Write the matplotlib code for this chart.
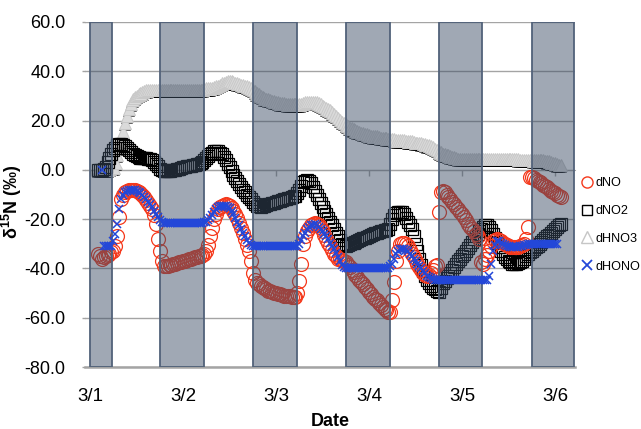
import numpy as np
import matplotlib
matplotlib.use('Agg')
import matplotlib.pyplot as plt
import matplotlib.patheffects as pe
from matplotlib.lines import Line2D
from matplotlib.colors import to_rgba

plt.rcParams['font.family'] = ['Liberation Sans', 'DejaVu Sans']
plt.rcParams['mathtext.fontset'] = 'custom'
plt.rcParams['mathtext.rm'] = 'Liberation Sans'
plt.rcParams['mathtext.bf'] = 'Liberation Sans:bold'
plt.rcParams['mathtext.default'] = 'bf'

nan = float('nan')

# sampling time: every 30 min, hours after 3/1 00:00 (2.0 ... 121.5)
hours = [2 + 0.5 * i for i in range(240)]

dHNO3 = [0, 0, 0, 0, 0, 0.2, 0.5, 0.7, 1, 3, 6, 9,
         12, 15.5, 19, 22, 25, 27, 28.5, 29.3, 30, 30.5, 31, 31.5,
         32, 32.3, 32.5, 32.5, 32.5, 32.5, 32.5, 32.5, 32.5, 32.5, 32.5, 32.5,
         32.5, 32.5, 32.5, 32.5, 32.5, 32.5, 32.5, 32.5, 32.5, 32.5, 32.5, 32.5,
         32.5, 32.5, 32.5, 32.5, 32.5, 32.5, 32.5, 32.8, 33, 33, 33, 33.2,
         33.5, 33.8, 34, 34.5, 35, 35.3, 35.5, 35.8, 36, 35.8, 35.5, 35.3,
         35, 34.8, 34.5, 34.3, 34, 33.8, 33.5, 33, 32.5, 31.8, 31, 30.5,
         30, 29.5, 29, 28.8, 28.5, 28.3, 28, 27.8, 27.5, 27.3, 27, 27,
         27, 26.8, 26.5, 26.5, 26.5, 26.5, 26.5, 26.5, 26.5, 26.7, 27, 27.3,
         27.5, 27.5, 27.5, 27.5, 27.5, 27.3, 27, 26.5, 26, 25.5, 25, 24.5,
         24, 23.3, 22.5, 21.8, 21, 20.3, 19.5, 19, 18.5, 17.8, 17, 16.8,
         16.5, 16, 15.5, 15.3, 15, 14.8, 14.5, 14.3, 14, 13.8, 13.5, 13.5,
         13.5, 13.3, 13, 13, 13, 12.8, 12.5, 12.5, 12.5, 12.3, 12, 12,
         12, 12, 12, 11.8, 11.5, 11.5, 11.5, 11.3, 11, 11, 11, 10.8,
         10.5, 10.3, 10, 9.8, 9.5, 9, 8.5, 8, 7.5, 7, 6.5, 6.3,
         6, 5.8, 5.5, 5.3, 5, 4.8, 4.5, 4.5, 4.5, 4.5, 4.5, 4.5,
         4.5, 4.5, 4.5, 4.5, 4.5, 4.5, 4.5, 4.5, 4.5, 4.5, 4.5, 4.5,
         4.5, 4.5, 4.5, 4.5, 4.5, 4.5, 4.5, 4.5, 4.5, 4.5, 4.5, 4.5,
         4.5, 4.3, 4, 4, 4, 4, 4, 4, 4, 3.8, 3.7, 3.7,
         3.7, 3.7, 3.7, 3.6, 3.5, 3.3, 3, 2.8, 2.5, 2.3, 2, 2]

dNO2 = [0, 0, 0, 0.3, 1, 3, 5, 6.5, 8, 9, 10, 10.3,
        10.5, 10, 9.5, 8.8, 8, 7.3, 6.5, 6, 5.5, 5.2, 5, 5,
        5, 4.8, 4.5, 4.3, 4, 3.3, 2.5, 1.5, 0.5, 0, -0.5, -0.5,
        -0.5, -0.3, 0, 0, 0, 0.3, 0.5, 0.8, 1, 1.3, 1.5, 1.5,
        1.5, 1.8, 2, 2.3, 2.5, 2.8, 3, 4, 5, 5.8, 6.5, 7,
        7.5, 7.5, 7.5, 7, 6.5, 5.3, 4, 2.5, 1, -0.5, -2, -3.3,
        -4.5, -5.8, -7, -8, -9, -10, -11, -12, -13, -13.8, -14.5, -14.8,
        -15, -14.8, -14.5, -14.3, -14, -13.8, -13.5, -13.3, -13, -12.8, -12.5, -12.3,
        -12, -11.8, -11.5, -11.3, -11, -10.8, -10.5, -9.3, -8, -6.5, -5, -4.5,
        -4, -4.5, -5.5, -7, -8.5, -10.3, -12, -13.5, -15, -16.5, -18, -19.5,
        -21, -22.5, -24, -25.5, -27, -28.5, -30, -30.5, -31, -30.5, -30, -29.8,
        -29.5, -29.3, -29, -28.5, -28, -27.8, -27.5, -27.3, -27, -26.5, -26, -25.8,
        -25.5, -25.3, -25, -24.8, -24.5, -24.3, -24, -22, -20, -18.5, -17.5, -17.2,
        -17, -17.3, -18, -19.5, -21, -22.5, -24, -27, -30, -33, -36, -38.5,
        -41, -43, -44.5, -46, -47, -48, -48.5, -49, -49.5, -48, -46, -45,
        -44, -43, -42, -40.8, -39.5, -38.3, -37, -36, -35, -34, -33, -31.8,
        -30.5, -29.3, -28, -27, -26, -25, -24, -23.3, -22.5, -22.5, -23, -24.5,
        -26, -27.8, -29.5, -31.3, -33, -34.3, -35.5, -36.3, -37, -37.5, -38, -38,
        -38, -37.8, -37.5, -36.8, -36, -35, -34, -33.5, -33, -32.3, -31.5, -30.8,
        -30, -29.3, -28.5, -27.8, -27, -26.3, -25.5, -24.8, -24, -23.3, -22.5, -22]

dNO = [-34, -35, -36, -35.5, -35, -34.5, -34, -33.5, -33, -31, -27, -19,
       -12, -10, -9, -8.5, -8, -8, -8, -8.2, -8.5, -9, -9.5, -10.2,
       -11, -12.2, -13.5, -14.7, -16, -18.5, -22, -28, -33, -37, -39, -39.2,
       -39, -38.8, -38.5, -38.3, -38, -37.8, -37.5, -37.3, -37, -36.8, -36.5, -36.3,
       -36, -35.8, -35.5, -35.3, -35, -34.8, -34.5, -34, -33, -30.5, -27, -23.5,
       -20, -17.8, -16, -15.2, -14.5, -14.2, -14, -14.2, -14.5, -15.3, -16.5, -18,
       -19.5, -21.5, -23.5, -25.8, -28, -30.5, -33, -37, -42, -44.5, -46, -46.5,
       -47, -47.5, -48, -48.5, -49, -49.3, -49.5, -49.8, -50, -50.3, -50.5, -50.8,
       -51, -51, -51, -51.3, -51.5, -51.5, -51.5, -50, -45, -38, -30, -27,
       -25, -23.5, -22.5, -22, -21.5, -21.8, -22.5, -23.5, -25, -26.5, -28, -29.5,
       -31, -32.5, -34, -35, -36, -36.3, -36.5, -37, -37.5, -38.5, -39.5, -40.5,
       -41.5, -42.5, -43.5, -44.5, -45.5, -46.5, -47.5, -48.5, -49.5, -50.5, -51.5, -52.3,
       -53, -54, -55, -55.8, -56.5, -57, -57.5, -57.5, -53, -45.5, -37, -33,
       -30, -29.5, -29.5, -30, -31, -32.5, -34, -35.5, -37, -38.3, -39.5, -40.8,
       -42, -42.5, -43, -42.8, -42, -40.5, -39, -38.5, -17, -9, -8.5, -9,
       -10, -11, -12, -13, -14, -15, -16, -17, -18, -19.3, -20.5, -21.8,
       -23, -24, -25, -26, -27, -28, -37.5, -38, -36, -34.5, -33, -31,
       -29, -28.3, -28, -28.5, -29, -29.5, -30, -30.5, -31, -31.3, -31.5, -31.5,
       -31.5, -31.3, -31, -30.5, -30, -28, -23, -3, -3, -3.3, -4, -4.5,
       -5, -5.5, -6, -6.5, -7, -7.8, -8.5, -9, -9.5, -10, -10.5, -11]

dHONO = [nan, nan, 0, -31, -31, -31, -31, -31, -29, -26, -22, -16,
         -12, -10, -9, -8.5, -8, -8, -8, -8.2, -8.5, -9, -9.5, -10.2,
         -11, -12, -13, -14, -15, -16.5, -18, -19.3, -20.5, -21, -21.5, -21.5,
         -21.5, -21.5, -21.5, -21.5, -21.5, -21.5, -21.5, -21.5, -21.5, -21.5, -21.5, -21.5,
         -21.5, -21.5, -21.5, -21.5, -21.5, -21.5, -21.5, -21.3, -21, -20.3, -19.5, -18.3,
         -17, -16, -15, -14.7, -14.5, -14.5, -14.5, -15, -15.5, -16.7, -18, -19.5,
         -21, -22.5, -24, -25.5, -27, -28.3, -29.5, -30.3, -31, -31, -31, -31,
         -31, -31, -31, -31, -31, -31, -31, -31, -31, -31, -31, -31,
         -31, -31, -31, -31, -31, -31, -31, -31, -30, -28.5, -27, -25.5,
         -24, -23.2, -22.5, -22.2, -22, -22.5, -23, -24, -25, -26, -27, -28.2,
         -29.5, -30.7, -32, -33.7, -35.5, -37, -38.5, -39.3, -40, -40, -40, -40,
         -40, -40, -40, -40, -40, -40, -40, -40, -40, -40, -40, -40,
         -40, -40, -40, -40, -40, -40, -40, -39, -38, -36, -34, -33,
         -32, -32, -32, -32.5, -33, -34, -35, -36, -37, -38, -39, -40,
         -41, -42, -43, -43.5, -44, -44.3, -44.5, -44.5, -44.5, -44.5, -44.5, -44.5,
         -44.5, -44.5, -44.5, -44.5, -44.5, -44.5, -44.5, -44.5, -44.5, -44.5, -44.5, -44.5,
         -44.5, -44.5, -44.5, -44.5, -44.5, -44.5, -44.5, -44.5, -44.5, -44.5, -43, -38,
         -33, -30.5, -29, -29, -29.5, -30, -30.5, -30.8, -31, -31.3, -31.5, -31.5,
         -31.5, -31.3, -31, -30.8, -30.5, -30.3, -30, -30, -30, -30, -30, -30,
         -30, -30, -30, -30, -30, -30, -30, -30, -30, -30, nan, nan]

# night periods (days after 3/1 00:00)
night_start = [0.0, 0.75, 1.75, 2.75, 3.75, 4.75]
night_end = [0.235, 1.228, 2.228, 3.228, 4.218, 5.2]

day_ticks = [0, 1, 2, 3, 4, 5]
day_labels = ['3/1', '3/2', '3/3', '3/4', '3/5', '3/6']
y_ticks = [60, 40, 20, 0, -20, -40, -60, -80]

fig = plt.figure(figsize=(6.41, 4.29), dpi=100)
ax = fig.add_axes([85 / 641, 1 - 367 / 429, 490 / 641, 345 / 429])

t = np.array(hours) / 24.0
ymin, ymax = min(y_ticks), max(y_ticks)

ax.plot(t, dHNO3, ls='none', marker='^', ms=9, mfc='#DADADA', mec='#C8C8C8', mew=0.7,
        zorder=2, path_effects=[pe.SimplePatchShadow(offset=(0, -1.5), shadow_rgbFace='k', alpha=0.6),
                                pe.Normal()])
ax.plot(t, dNO2, ls='none', marker='s', ms=8.5, mfc='none', mec='black', mew=0.9, zorder=3)
ax.plot(t, dNO, ls='none', marker='o', ms=10, mfc='none', mec='#F5391C', mew=0.9, zorder=4)

widths = np.subtract(night_end, night_start)
ax.bar(night_start, ymax - ymin, width=widths, bottom=ymin, align='edge',
       facecolor=to_rgba('#3D4E66', 0.49), edgecolor='#52627A', linewidth=1.3, zorder=5)

ax.plot(t, dHONO, ls='none', marker='x', ms=6, mec='#2347D8', mew=1.1, zorder=6)

ax.set_xlim(-0.055, 5.215)
ax.set_ylim(ymin, ymax)
ax.set_yticks(y_ticks)
ax.set_yticklabels([f'{v:.1f}' for v in y_ticks])
ax.set_xticks(day_ticks)
ax.set_xticklabels(day_labels)

ax.yaxis.grid(True, color='#A4A4A4', lw=1.0)
ax.set_axisbelow(True)
for s in ['top', 'right', 'left']:
    ax.spines[s].set_visible(False)
ax.spines['bottom'].set_color('#A4A4A4')
ax.spines['bottom'].set_linewidth(1.8)

ax.tick_params(axis='y', length=2, width=1.0, color='#A4A4A4', pad=12, labelsize=13)
ax.tick_params(axis='x', length=0, pad=15, labelsize=13.5)

# category axis crossing at zero: small tick marks there
sec = ax.secondary_xaxis((0 - ymin) / (ymax - ymin))
sec.set_xticks(day_ticks)
sec.set_xticklabels([])
sec.tick_params(length=4, width=1.0, color='#A4A4A4', direction='in')
for s in sec.spines.values():
    s.set_color('#A4A4A4')

ax.set_xlabel('Date', fontsize=13, fontweight='bold')
ax.xaxis.set_label_coords(0.5, -0.133)
ax.set_ylabel(r'δ$^{15}$N (‰)', fontsize=13, fontweight='bold')
ax.yaxis.set_label_coords(-0.125, 0.48)

handles = [
    Line2D([], [], ls='none', marker='o', ms=8, mfc='none', mec='#F5391C', mew=1.0),
    Line2D([], [], ls='none', marker='s', ms=7.5, mfc='none', mec='black', mew=1.0),
    Line2D([], [], ls='none', marker='^', ms=8, mfc='none', mec='#C6C6C6', mew=1.0),
    Line2D([], [], ls='none', marker='x', ms=7, mec='#2347D8', mew=1.3),
]
labels = ['dNO', 'dNO2', 'dHNO3', 'dHONO']
fig.legend(handles, labels, loc='upper left', bbox_to_anchor=(582 / 641, 1 - 177 / 429),
           frameon=False, fontsize=9.1, handlelength=0.85, handletextpad=0.2,
           borderpad=0, borderaxespad=0, labelspacing=1.26, numpoints=1)

fig.savefig('out.png', dpi=100)
